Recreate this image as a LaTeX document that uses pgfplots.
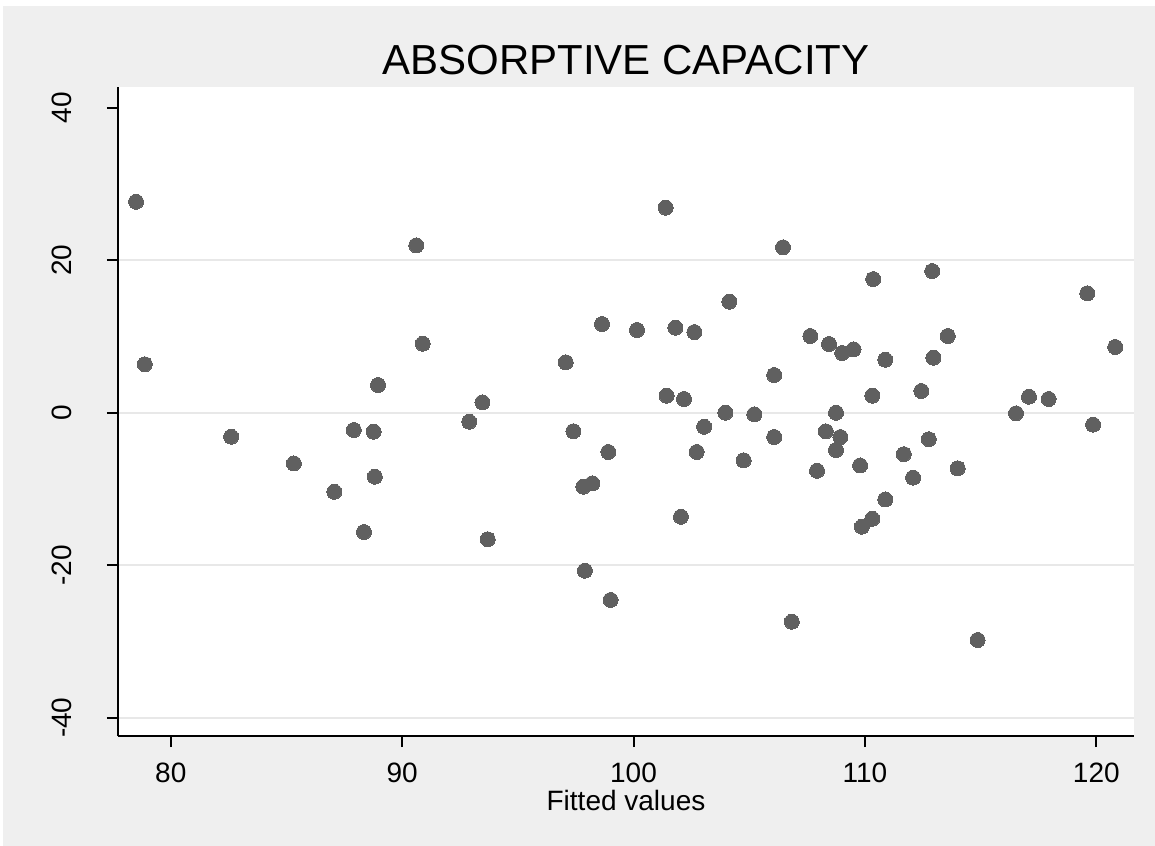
\documentclass[border=0pt]{standalone}
\usepackage{fontspec}
\setmainfont{Liberation Sans}
\usepackage{pgfplots}
\pgfplotsset{compat=1.18}
\definecolor{bggray}{RGB}{239,239,239}
\definecolor{markgray}{RGB}{96,96,96}
\definecolor{gridgray}{RGB}{232,232,232}
\begin{document}
\begin{tikzpicture}
\fill[white] (-59bp,-55bp) rectangle (518.5bp,368bp);
\fill[bggray] (-57.5bp,-55bp) rectangle (518.5bp,365bp);
\begin{axis}[
  at={(0,0)}, anchor=south west,
  scale only axis, width=508bp, height=324.35bp,
  xmin=77.72, xmax=121.63, ymin=-42.4, ymax=42.68,
  clip=false,
  axis background/.style={fill=white},
  axis x line*=bottom, axis y line*=left,
  axis line style={line width=1bp, black, -},
  tick align=outside, major tick length=5.5bp,
  tick style={line width=1bp, black},
  xtick={80,90,100,110,120}, xticklabels={80,90,100,110,120},
  ytick={-40,-20,0,20}, yticklabels={-40,-20,0,20},
  extra y ticks={40}, extra y tick labels={40},
  extra y tick style={grid=none},
  ymajorgrids, grid style={gridgray, line width=1bp},
  ticklabel style={font=\fontsize{14bp}{16bp}\selectfont},
  xticklabel style={anchor=base, inner sep=0pt, yshift=-17.8bp},
  yticklabel style={anchor=base, inner sep=0pt, xshift=-17.8bp, rotate=90},
  every axis title shift=0pt,
  title={ABSORPTIVE CAPACITY},
  title style={font=\fontsize{21bp}{25bp}\selectfont, at={(axis description cs:0.5,1)}, anchor=base, yshift=6.15bp, inner sep=0pt},
  xlabel={Fitted values},
  xlabel style={font=\fontsize{14bp}{16bp}\selectfont, at={(axis description cs:0.5,0)}, anchor=base, yshift=-37.15bp, inner sep=0pt},
]
\addplot[only marks, mark=*, mark size=3.75bp, mark options={fill=markgray, draw=markgray, line width=0pt}] coordinates {
(78.50,27.67) (78.88,6.35) (82.61,-3.15) (85.32,-6.66) (87.07,-10.37)
(87.91,-2.27) (88.35,-15.65) (88.77,-2.49) (88.82,-8.39) (88.96,3.63)
(90.61,21.95) (90.89,9.05) (92.90,-1.18) (93.47,1.36) (93.70,-16.60)
(97.07,6.61) (97.40,-2.43) (97.83,-9.70) (98.22,-9.26) (97.90,-20.72)
(98.91,-5.15) (98.64,11.63) (99.01,-24.56) (100.15,10.85) (101.39,26.89)
(101.43,2.23) (101.81,11.15) (102.05,-13.64) (102.18,1.80) (102.63,10.58)
(102.73,-5.15) (103.05,-1.84) (103.97,0.00) (104.14,14.56) (104.76,-6.24)
(105.22,-0.21) (106.08,4.94) (106.08,-3.19) (106.46,21.69) (106.84,-27.41)
(107.64,10.06) (107.93,-7.61) (108.31,-2.44) (108.45,9.01) (108.75,0.00)
(108.75,-4.89) (108.94,-3.19) (109.02,7.83) (109.51,8.31) (109.79,-6.92)
(109.87,-14.95) (110.32,-13.91) (110.36,17.53) (110.32,2.23) (110.88,6.95)
(110.88,-11.38) (111.68,-5.44) (112.08,-8.52) (112.44,2.85) (112.76,-3.48)
(112.91,18.58) (112.96,7.21) (113.58,10.06) (114.01,-7.29) (114.87,-29.81)
(116.53,-0.08) (117.09,2.10) (117.94,1.80) (119.61,15.66) (119.86,-1.57)
(120.82,8.62)
};
\end{axis}
\pgfresetboundingbox
\useasboundingbox (-59bp,-55bp) rectangle (518.5bp,368bp);
\end{tikzpicture}
\end{document}
